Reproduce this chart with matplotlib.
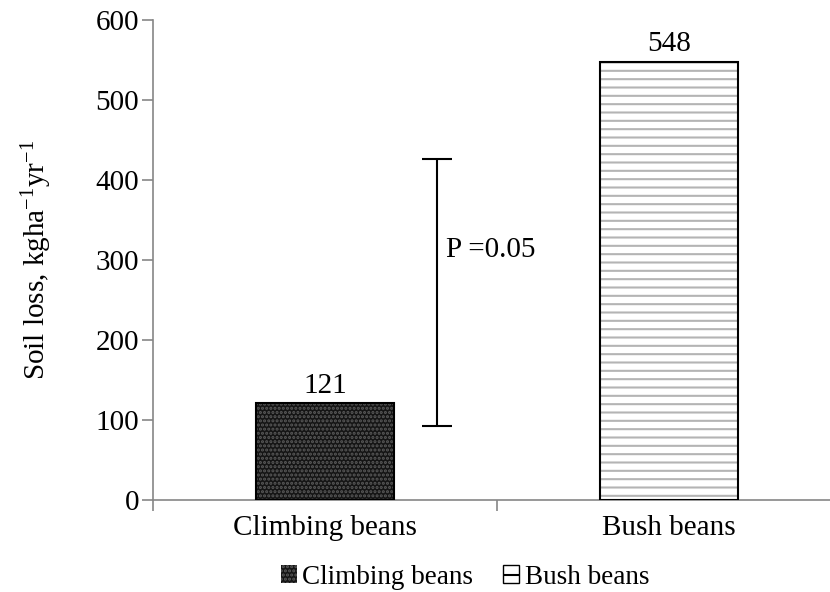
import matplotlib
matplotlib.use("Agg")
import matplotlib.pyplot as plt
from matplotlib.patches import Patch

categories = ["Climbing beans", "Bush beans"]
values = [121, 548]
err_center = 259
err_half = 167
p_text = "P =0.05"

plt.rcParams['font.family'] = ['Liberation Serif', 'DejaVu Serif']
plt.rcParams['mathtext.fontset'] = 'custom'
plt.rcParams['mathtext.rm'] = 'Liberation Serif'
plt.rcParams['mathtext.it'] = 'Liberation Serif:italic'
plt.rcParams['hatch.linewidth'] = 1.5

fig = plt.figure(figsize=(8.3, 5.92), dpi=100)
ax = fig.add_axes([153/830, 92/592, 688/830, 480/592])

x = [0, 1]
faces = ['#151515', 'white']
hatch_cols = ['#5a5a5a', '#b4b4b4']
hatches = ['....', '--']
for i in range(2):
    ax.bar(x[i], values[i], width=0.4, color=faces[i], edgecolor=hatch_cols[i],
           hatch=hatches[i], linewidth=0, zorder=2)
    ax.bar(x[i], values[i], width=0.4, fill=False, edgecolor='black', linewidth=1.5, zorder=3)
    ax.annotate(str(values[i]), (x[i], values[i]), xytext=(0, 3), textcoords='offset points',
                ha='center', va='bottom', fontsize=21)

ax.errorbar([0.3256], [err_center], yerr=[err_half], fmt='none', ecolor='black',
            elinewidth=1.5, capsize=11, capthick=1.5, zorder=4)
ax.text(0.352, 312, p_text, fontsize=21, ha='left', va='center')

ax.set_xlim(-0.5, 1.5)
ax.set_ylim(0, 600)
ax.set_yticks(range(0, 601, 100))
ax.set_xticks(x)
ax.set_xticklabels(categories)
ax.set_xticks([-0.5, 0.5, 1.5], minor=True)
ax.tick_params(axis='x', which='major', length=0, labelsize=21, pad=11)
ax.tick_params(axis='x', which='minor', length=8, color='#868686', width=1.2)
ax.tick_params(axis='y', length=8, color='#868686', width=1.2, labelsize=21, pad=2)
for s in ['top', 'right']:
    ax.spines[s].set_visible(False)
for s in ['left', 'bottom']:
    ax.spines[s].set_color('#868686')
    ax.spines[s].set_linewidth(1.2)
ax.set_ylabel("Soil loss, kgha$^{\\mathrm{-1}}$yr$^{\\mathrm{-1}}$", fontsize=21, labelpad=30)

handles = [Patch(facecolor=faces[0], edgecolor='#5a5a5a', hatch='....', linewidth=0),
           Patch(facecolor=faces[1], edgecolor='black', hatch='-', linewidth=1)]
fig.legend(handles, categories, loc='center', bbox_to_anchor=(465/830, 1 - 577/592),
           ncol=2, frameon=False, fontsize=19.5, handlelength=0.6, handleheight=0.6,
           handletextpad=0.2, columnspacing=1.1)

fig.savefig("out.png", dpi=100)
